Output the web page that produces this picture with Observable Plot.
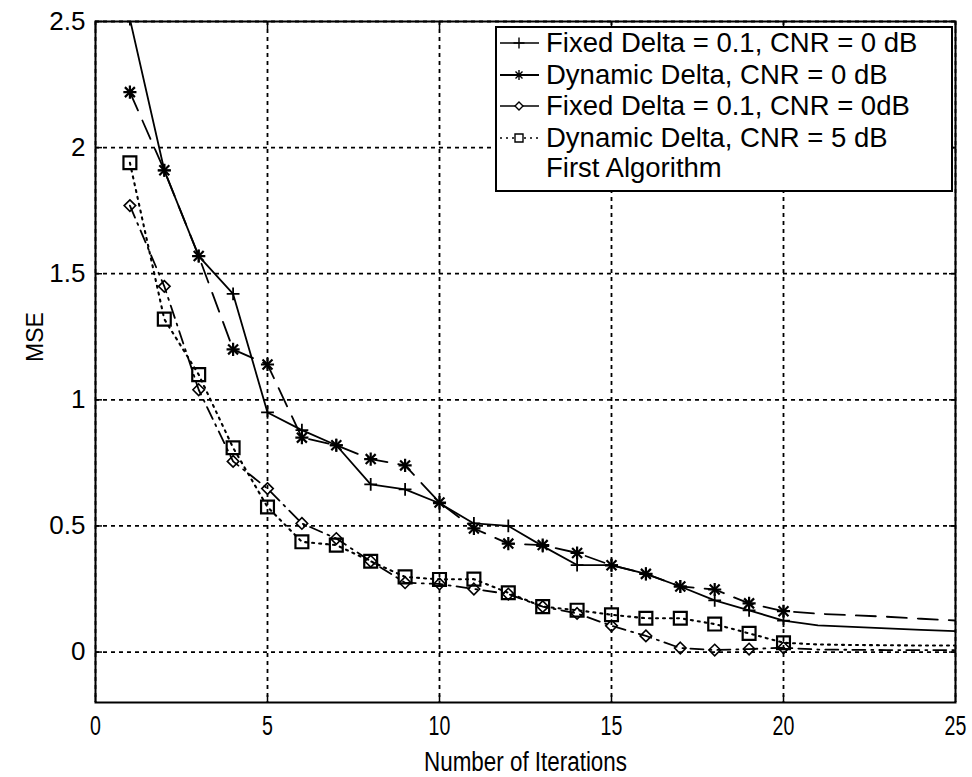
<!DOCTYPE html>
<html>
<head>
<meta charset="utf-8">
<script src="https://cdn.jsdelivr.net/npm/d3@7"></script>
<script src="https://cdn.jsdelivr.net/npm/@observablehq/plot@0.6"></script>
<style>
  html, body { margin: 0; padding: 0; background: #fff; }
  #wrap { position: relative; width: 972px; height: 777px; overflow: hidden; }
  #legend { position: absolute; left: 495px; top: 26px; width: 458px; height: 166px;
    box-sizing: border-box; border: 2px solid #000; background: #fff; }
  .row { position: absolute; left: 0; height: 30px; display: flex; align-items: center; }
  .row svg { display: block; }
  .row span { font-family: "Liberation Sans", Arial, sans-serif; font-size: 27.5px; color: #000;
    white-space: nowrap; margin-left: 5px; line-height: 30px; }
</style>
</head>
<body>
<div id="wrap"><div id="chart"></div><div id="legend"></div></div>
<script>
// ---- data ----
const iterations = [1,2,3,4,5,6,7,8,9,10,11,12,13,14,15,16,17,18,19,20];
const tailIterations = [20,21,22,23,24,25];

const fixedDelta0 = [2.51,1.91,1.57,1.42,0.95,0.88,0.82,0.665,0.645,0.59,0.51,0.50,0.42,0.345,0.345,0.31,0.26,0.205,0.165,0.125];
const fixedDelta0Tail = [0.125,0.106,0.10,0.094,0.088,0.083];

const dynamicDelta0 = [2.22,1.91,1.57,1.20,1.14,0.85,0.82,0.765,0.74,0.593,0.49,0.43,0.424,0.393,0.344,0.31,0.26,0.248,0.193,0.162];
const dynamicDelta0Tail = [0.162,0.152,0.146,0.14,0.132,0.125];

const fixedDeltaFirst = [1.77,1.45,1.04,0.756,0.648,0.51,0.45,0.36,0.275,0.27,0.25,0.23,0.18,0.153,0.104,0.064,0.016,0.008,0.012,0.017];
const fixedDeltaFirstTail = [0.017,0.01,0.009,0.008,0.008,0.008];

const dynamicDelta5 = [1.94,1.32,1.10,0.81,0.575,0.437,0.424,0.36,0.298,0.288,0.289,0.235,0.18,0.166,0.148,0.134,0.134,0.111,0.074,0.037];
const dynamicDelta5Tail = [0.037,0.03,0.028,0.027,0.026,0.026];

const xTicks = [0,5,10,15,20,25];
const yTicks = [0,0.5,1,1.5,2,2.5];
const xDomain = [0,25];
const yDomain = [-0.2,2.5];

const xLabel = "Number of Iterations";
const yLabel = "MSE";
const legendLabels = [
  "Fixed Delta = 0.1, CNR = 0 dB",
  "Dynamic Delta, CNR = 0 dB",
  "Fixed Delta = 0.1, CNR = 0dB",
  "Dynamic Delta, CNR = 5 dB",
  "First Algorithm"
];

// ---- build tables ----
function series(xs, ys) { return xs.map((x, i) => ({x, y: ys[i]})); }
function fullLine(ys, tail) { return series(iterations, ys).concat(series(tailIterations, tail).slice(1)); }

const sFixed0 = series(iterations, fixedDelta0);
const sDyn0 = series(iterations, dynamicDelta0);
const sFixedF = series(iterations, fixedDeltaFirst);
const sDyn5 = series(iterations, dynamicDelta5);

const dashes = { dyn0: "20,11", fixedF: "13,6,2,6", dyn5: "2,5" };
const LW = 1.8;
const font = "'Liberation Sans', Arial, sans-serif";

const chart = Plot.plot({
  width: 972, height: 777,
  marginLeft: 95, marginRight: 17, marginTop: 21, marginBottom: 75,
  x: {domain: xDomain},
  y: {domain: yDomain},
  style: {fontFamily: font, background: "white", color: "black"},
  marks: [
    Plot.gridX({ticks: xTicks, stroke: "black", strokeOpacity: 1, strokeWidth: 1.8, strokeDasharray: "4,4"}),
    Plot.gridY({ticks: yTicks, stroke: "black", strokeOpacity: 1, strokeWidth: 1.8, strokeDasharray: "4,4"}),
    Plot.line(fullLine(fixedDelta0, fixedDelta0Tail), {x: "x", y: "y", stroke: "black", strokeWidth: LW, clip: true}),
    Plot.line(fullLine(dynamicDelta0, dynamicDelta0Tail), {x: "x", y: "y", stroke: "black", strokeWidth: LW, strokeDasharray: dashes.dyn0, clip: true}),
    Plot.line(fullLine(fixedDeltaFirst, fixedDeltaFirstTail), {x: "x", y: "y", stroke: "black", strokeWidth: LW, strokeDasharray: dashes.fixedF, clip: true}),
    Plot.line(fullLine(dynamicDelta5, dynamicDelta5Tail), {x: "x", y: "y", stroke: "black", strokeWidth: LW + 0.3, strokeDasharray: dashes.dyn5, clip: true}),
    // markers
    Plot.dot(sFixed0, {x: "x", y: "y", symbol: "plus", r: 4.2, stroke: "black", strokeWidth: 1.8, clip: true}),
    Plot.dot(sDyn0, {x: "x", y: "y", symbol: "plus", r: 4.3, stroke: "black", strokeWidth: 2.2, clip: true}),
    Plot.dot(sDyn0, {x: "x", y: "y", symbol: "times", r: 4.6, stroke: "black", strokeWidth: 2.2, clip: true}),
    Plot.dot(sFixedF, {x: "x", y: "y", symbol: "diamond2", r: 5.2, stroke: "black", fill: "none", strokeWidth: 1.6, clip: true}),
    Plot.dot(sDyn5, {x: "x", y: "y", symbol: "square2", r: 8.2, stroke: "black", fill: "none", strokeWidth: 2.2, clip: true}),
    Plot.frame({stroke: "black", strokeWidth: 2}),
    // inward ticks
    Plot.axisX({ticks: xTicks, anchor: "bottom", tickSize: -7, tickFormat: () => "", label: null, strokeWidth: 1.5}),
    Plot.axisX({ticks: xTicks, anchor: "top", tickSize: -7, tickFormat: () => "", label: null, strokeWidth: 1.5}),
    Plot.axisY({ticks: yTicks, anchor: "left", tickSize: -7, tickFormat: () => "", label: null, strokeWidth: 1.5}),
    Plot.axisY({ticks: yTicks, anchor: "right", tickSize: -7, tickFormat: () => "", label: null, strokeWidth: 1.5}),
    // tick labels and axis titles
    Plot.axisX({ticks: xTicks, anchor: "bottom", tickSize: 0, tickPadding: 13, fontSize: 28,
      label: xLabel, labelAnchor: "center", labelOffset: 68, labelArrow: "none"}),
    Plot.axisY({ticks: yTicks, anchor: "left", tickSize: 0, tickPadding: 10, fontSize: 26,
      tickFormat: d => String(d), label: null}),
    Plot.text([yLabel], {text: d => d, frameAnchor: "left", rotate: -90, dx: -60, fontSize: 23,
      fontFamily: font, fill: "black"})
  ]
});
document.getElementById("chart").appendChild(chart);

// enforce text sizes and narrow x-axis lettering (like the original's condensed face)
function styleTexts(sel, size, squeeze) {
  chart.querySelectorAll(sel).forEach(t => {
    t.style.fontSize = size + "px";
    t.style.fontFamily = font;
    if (squeeze) {
      const w = t.getComputedTextLength();
      t.setAttribute("textLength", (w * squeeze).toFixed(1));
      t.setAttribute("lengthAdjust", "spacingAndGlyphs");
    }
  });
}
styleTexts('g[aria-label="x-axis tick label"] text', 28, 0.7);
styleTexts('g[aria-label="x-axis label"] text', 27, 0.83);
styleTexts('g[aria-label="y-axis tick label"] text', 26, 0);

// ---- legend (inside plot, top right) ----
const legend = document.getElementById("legend");
const rowTops = [0, 31.5, 63, 94.5, 124.5];
const sampleKeys = ["fixed0", "dyn0", "fixedF", "dyn5", null];
legendLabels.forEach((lab, i) => {
  const row = document.createElement("div");
  row.className = "row";
  row.style.top = (rowTops[i]) + "px";
  const ns = "http://www.w3.org/2000/svg";
  const svg = document.createElementNS(ns, "svg");
  svg.setAttribute("width", 44); svg.setAttribute("height", 30);
  const key = sampleKeys[i];
  if (key) {
    const ln = document.createElementNS(ns, "line");
    ln.setAttribute("x1", 3); ln.setAttribute("x2", 42); ln.setAttribute("y1", 15); ln.setAttribute("y2", 15);
    ln.setAttribute("stroke", "black"); ln.setAttribute("stroke-width", key === "dyn0" ? 2 : 1.6);
    if (key === "dyn5") ln.setAttribute("stroke-dasharray", "2,4");
    svg.appendChild(ln);
    const m = document.createElementNS(ns, "path");
    let d = "";
    if (key === "fixed0") d = "M16.5,15H27.5M22,9.5V20.5";
    if (key === "dyn0") d = "M17,15H27M22,10V20M18.5,11.5L25.5,18.5M25.5,11.5L18.5,18.5";
    if (key === "fixedF") d = "M22,11L26,15L22,19L18,15Z";
    if (key === "dyn5") d = "M18,11H26V19H18Z";
    m.setAttribute("d", d); m.setAttribute("stroke", "black"); m.setAttribute("fill", key === "fixedF" || key === "dyn5" ? "white" : "none");
    m.setAttribute("stroke-width", 1.4);
    svg.appendChild(m);
  }
  row.appendChild(svg);
  const sp = document.createElement("span");
  sp.textContent = lab;
  row.appendChild(sp);
  legend.appendChild(row);
});
</script>
</body>
</html>
